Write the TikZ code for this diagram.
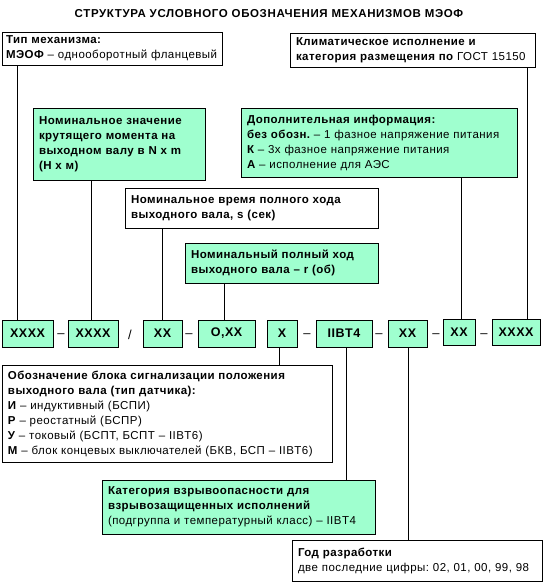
\documentclass[tikz,border=0pt]{standalone}
\usepackage{fontspec}
\setmainfont{Liberation Sans}[LetterSpace=4]
\newfontfamily\titlefont{Liberation Sans}[LetterSpace=5.5]
\definecolor{boxgreen}{HTML}{9FFFCF}
\frenchspacing
\begin{document}
\begin{tikzpicture}[x=1pt,y=-1pt,
  box/.style={draw, line width=1pt, anchor=north west, inner xsep=6pt, inner ysep=0pt, outer sep=0pt, align=left,
    font=\fontsize{11.5}{15}\selectfont},
  gbox/.style={box, fill=boxgreen},
  code/.style={draw, line width=1pt, fill=boxgreen, anchor=north west, inner sep=0pt, outer sep=0pt,
    minimum height=27pt, font=\bfseries\fontsize{12.5}{14}\selectfont},
  sep/.style={inner sep=0pt, anchor=base, font=\fontsize{13}{14}\selectfont},
  link/.style={line width=1pt}
]
\useasboundingbox (0,0) rectangle (545,582);
\node[font=\titlefont\bfseries\fontsize{11.5}{12}\selectfont] (title) at (269,14) {СТРУКТУРА УСЛОВНОГО ОБОЗНАЧЕНИЯ МЕХАНИЗМОВ МЭОФ};

% top boxes
\node[box, inner xsep=4pt, minimum width=220pt, minimum height=33pt, text width=212pt] (tip) at (2,32)
  {{\bfseries Тип механизма:}\\{\bfseries МЭОФ} – однооборотный фланцевый};
\node[box, minimum width=245pt, minimum height=34pt, text width=233pt] (klim) at (290,33)
  {{\bfseries Климатическое исполнение и}\\{\bfseries категория размещения по} ГОСТ 15150};
\node[gbox, minimum width=172pt, minimum height=72pt, text width=160pt] (moment) at (33,108)
  {\bfseries Номинальное значение\\\bfseries крутящего момента на\\\bfseries выходном валу в N x m\\\bfseries (Н x м)};
\node[gbox, minimum width=276pt, minimum height=69pt, text width=264pt] (dop) at (241,108)
  {{\bfseries Дополнительная информация:}\\{\bfseries без обозн.} – 1 фазное напряжение питания\\{\bfseries К} – 3х фазное напряжение питания\\{\bfseries А} – исполнение для АЭС};
\node[box, minimum width=253pt, minimum height=40pt, text width=241pt] (time) at (125,188)
  {\bfseries Номинальное время полного хода\\\bfseries выходного вала, s (сек)};
\node[gbox, minimum width=193pt, minimum height=40pt, text width=181pt] (hod) at (185,243)
  {\bfseries Номинальный полный ход\\\bfseries выходного вала – r (об)};

% code row
\node[code, minimum width=51pt] (c1) at (2,320) {XXXX};
\node[sep] (d1) at (61,337) {–};
\node[code, minimum width=50pt] (c2) at (68,320) {XXXX};
\node[sep] (s1) at (130,339) {/};
\node[code, minimum width=39pt] (c3) at (143,320) {XX};
\node[sep] (d2) at (189,337) {–};
\node[code, minimum width=57pt] (c4) at (198,320) {O,XX};
\node[code, minimum width=30pt] (c5) at (267,320) {X};
\node[sep] (d3) at (307,337) {–};
\node[code, minimum width=56pt] (c6) at (316,320) {IIBT4};
\node[sep] (d4) at (379,337) {–};
\node[code, minimum width=39pt] (c7) at (388,320) {XX};
\node[sep] (d5) at (436,337) {–};
\node[code, minimum width=32pt, minimum height=26pt] (c8) at (443,319) {XX};
\node[sep] (d6) at (484,337) {–};
\node[code, minimum width=48pt, minimum height=26pt] (c9) at (492,319) {XXXX};

% bottom boxes
\node[box, minimum width=330pt, minimum height=97pt, text width=318pt] (sensor) at (2,365)
  {{\bfseries Обозначение блока сигнализации положения}\\{\bfseries выходного вала (тип датчика):}\\{\bfseries И} – индуктивный (БСПИ)\\{\bfseries Р} – реостатный (БСПР)\\{\bfseries У} – токовый (БСПТ, БСПТ – IIBT6)\\{\bfseries М} – блок концевых выключателей (БКВ, БСП – IIBT6)};
\node[gbox, minimum width=273pt, minimum height=54pt, text width=261pt] (kat) at (102,480)
  {{\bfseries Категория взрывоопасности для}\\{\bfseries взрывозащищенных исполнений}\\(подгруппа и температурный класс) – IIBT4};
\node[box, minimum width=250pt, minimum height=41pt, text width=238pt] (god) at (292,540)
  {{\bfseries Год разработки}\\две последние цифры: 02, 01, 00, 99, 98};

% connectors
\draw[link] ([xshift=15pt]c1.north west) -- ([xshift=15pt]c1.north west |- tip.south);
\draw[link] ([xshift=23pt]c2.north west) -- ([xshift=23pt]c2.north west |- moment.south);
\draw[link] ([xshift=19pt]c3.north west) -- ([xshift=19pt]c3.north west |- time.south);
\draw[link] ([xshift=26pt]c4.north west) -- ([xshift=26pt]c4.north west |- hod.south);
\draw[link] ([xshift=18pt]c8.north west) -- ([xshift=18pt]c8.north west |- dop.south);
\draw[link] ([xshift=35pt]c9.north west) -- ([xshift=35pt]c9.north west |- klim.south);
\draw[link] ([xshift=12pt]c5.south west) -- ([xshift=12pt]c5.south west |- sensor.north);
\draw[link] ([xshift=30pt]c6.south west) -- ([xshift=30pt]c6.south west |- kat.north);
\draw[link] ([xshift=20pt]c7.south west) -- ([xshift=20pt]c7.south west |- god.north);
\end{tikzpicture}
\end{document}
